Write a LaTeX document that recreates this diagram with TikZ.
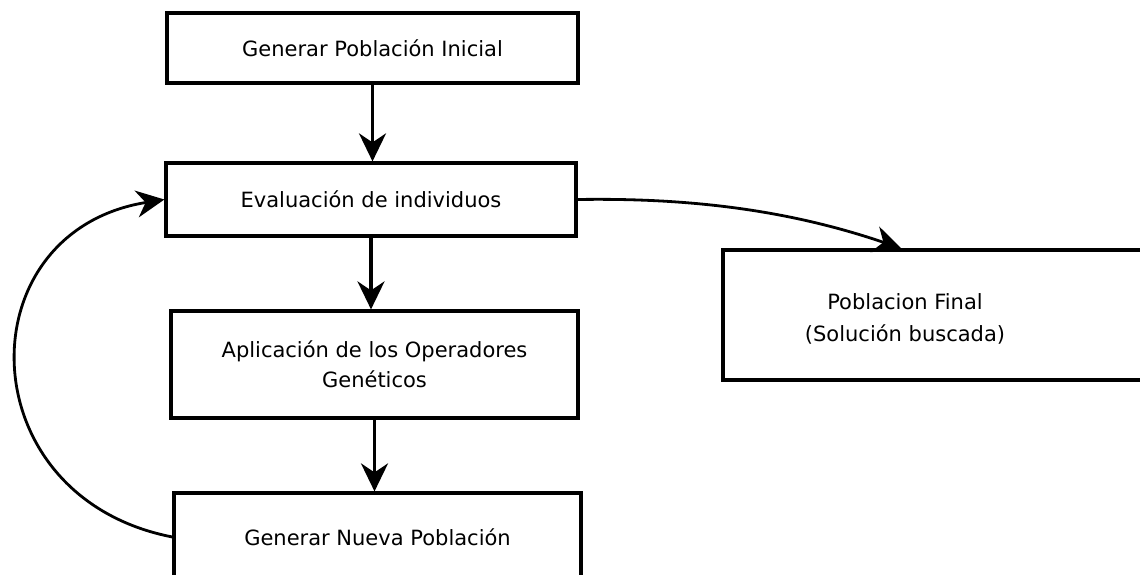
\documentclass[tikz,border=0pt]{standalone}
\usepackage{fontspec}
\setmainfont{DejaVu Sans}
\usetikzlibrary{arrows.meta}
\begin{document}
\begin{tikzpicture}[x=1pt,y=-1pt,
  box/.style={draw=black, line width=3.2pt, rectangle, inner sep=0pt, align=center,
    font=\fontsize{21}{30}\selectfont},
  txt/.style={inner sep=0pt, align=center, font=\fontsize{21}{32}\selectfont},
  flow/.style={draw=black, line width=3.2pt, -{Stealth[length=28pt,width=27pt,inset=9pt]}},
  curvearrow/.style={draw=black, line width=2.8pt, -{Stealth[length=28pt,width=27pt,inset=9pt]}}]
\clip (0,0) rectangle (1140,574);
\fill[white] (0,0) rectangle (1140,574);

% process steps
\node[box, minimum width=411pt, minimum height=70pt]  (b1) at (372.5,48)   {Generar Población Inicial};
\node[box, minimum width=410pt, minimum height=73pt]  (b2) at (371,199.5)  {Evaluación de individuos};
\node[box, minimum width=407pt, minimum height=107pt] (b3) at (374.5,364.5) {Aplicación de los Operadores\\Genéticos};
\node[box, minimum width=407pt, minimum height=88pt]  (b4) at (377.5,537)  {Generar Nueva Población};

% final result
\node[box, minimum width=437pt, minimum height=130pt] (b5) at (941.5,315) {};
\node[txt] (b5t) at (905,319) {Poblacion Final\\(Solución buscada)};
\coordinate (b5in) at ([xshift=180pt]b5.north west);

% main flow
\draw[flow] (b1.south) -- (b1.south |- b2.north);
\draw[flow] (b2.south) -- (b2.south |- b3.north);
\draw[flow] (b3.south) -- (b3.south |- b4.north);

% exit to the final population
\draw[curvearrow] (b2.east) .. controls +(125,-2) and +(-103,-35) .. (b5in);

% loop back to evaluation
\draw[curvearrow] (b4.west) .. controls +(-205,-40) and +(-200,32) .. (b2.west);
\end{tikzpicture}
\end{document}
